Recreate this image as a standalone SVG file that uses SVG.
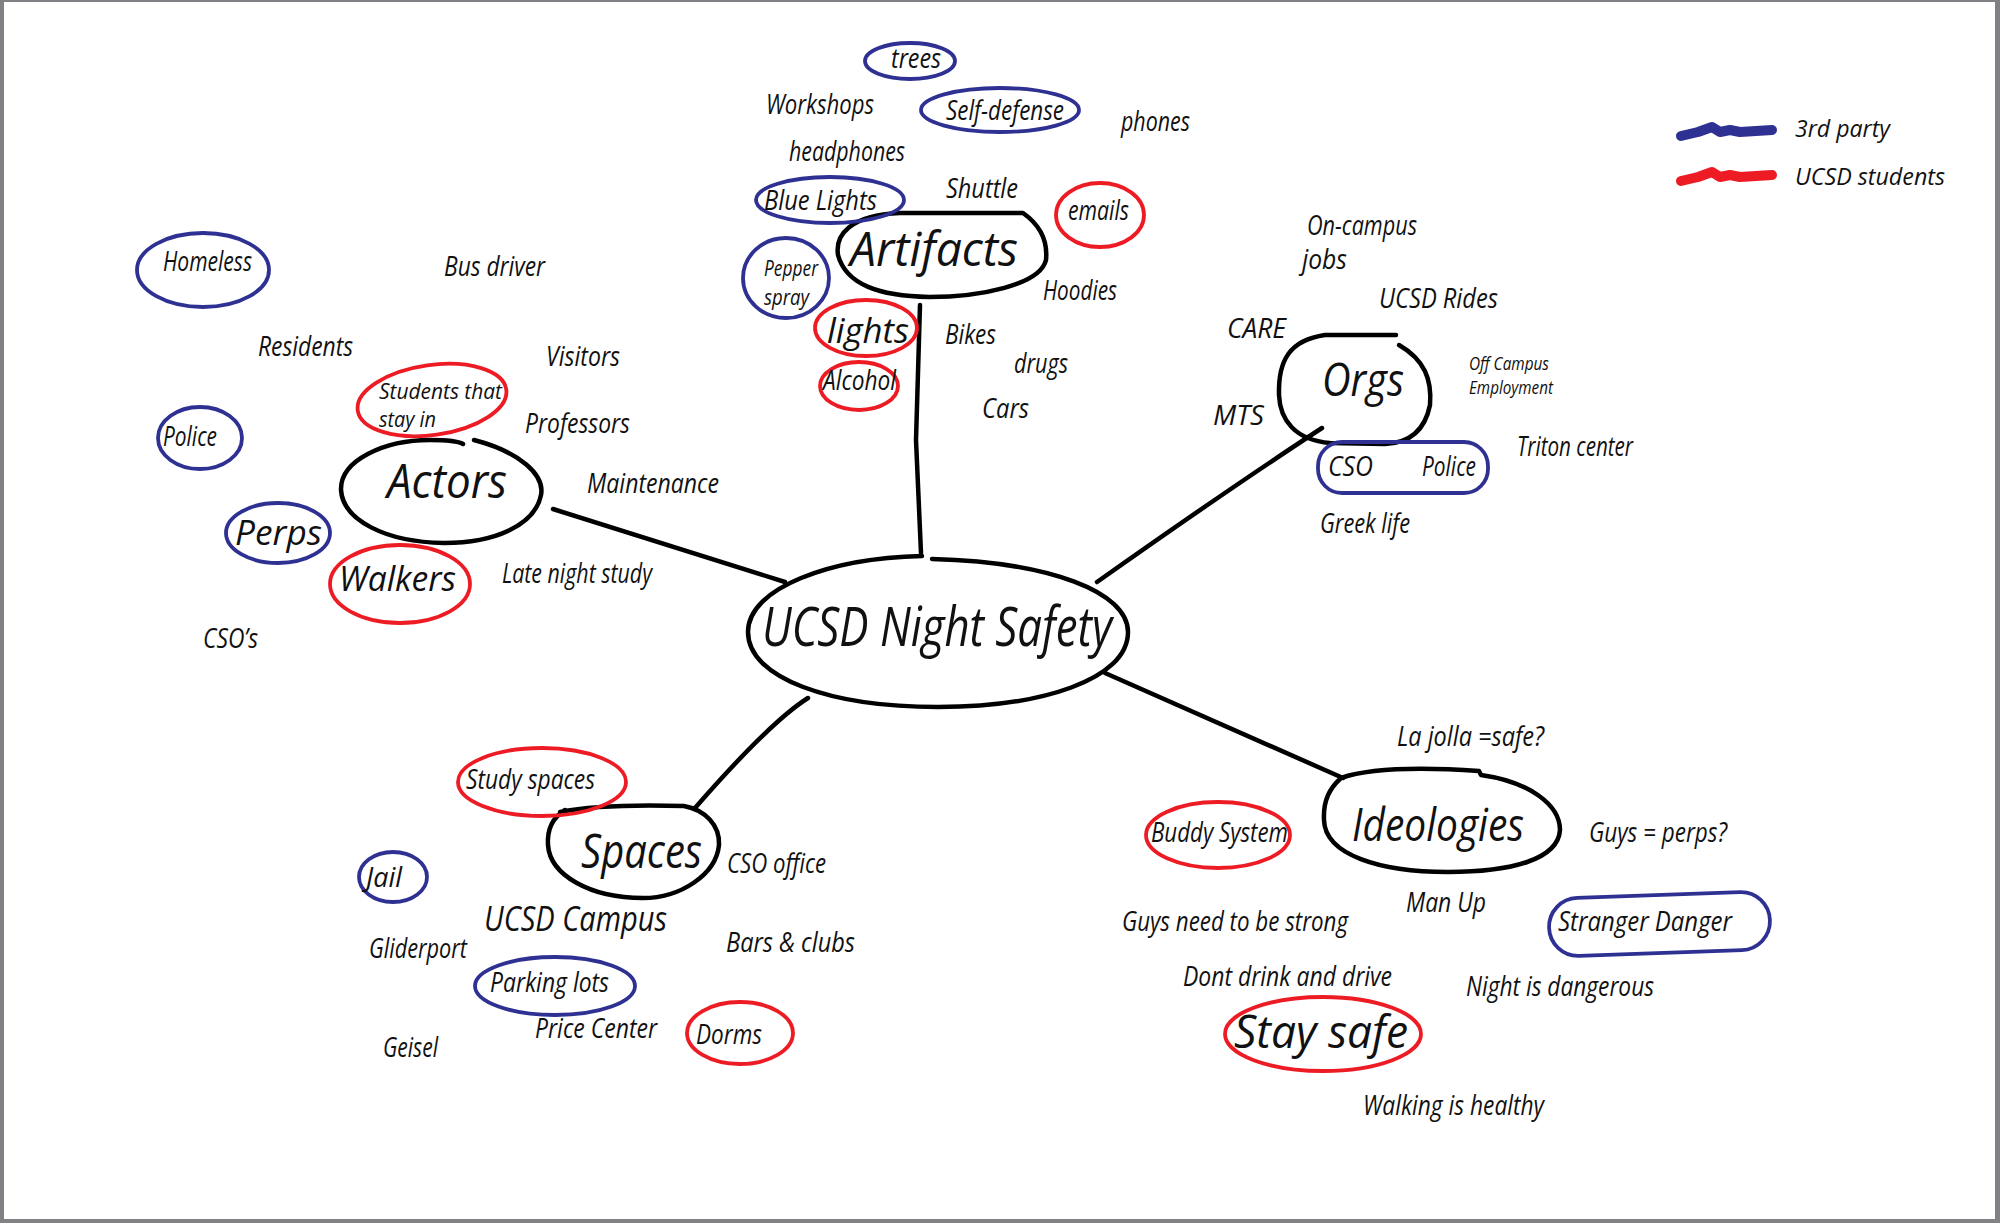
<svg xmlns="http://www.w3.org/2000/svg" width="2000" height="1223" viewBox="0 0 2000 1223">
<style>
text{font-family:"Open Sans","Liberation Sans",sans-serif;font-style:italic;fill:#111;font-size:27px}
.sm{font-size:22px}
.xs{font-size:18px}
.md{font-size:35px}
.lg{font-size:46px}
.big{font-size:48px}
.hub{font-size:54px}
.leg{font-size:24px}
.ink{fill:none;stroke:#000;stroke-width:4.5;stroke-linecap:round;stroke-linejoin:round}
.b{fill:none;stroke:#2E3192;stroke-width:3.8}
.r{fill:none;stroke:#ED1C24;stroke-width:3.8}
.lb{fill:none;stroke:#2E3192;stroke-width:10;stroke-linecap:round;stroke-linejoin:round}
.lr{fill:none;stroke:#ED1C24;stroke-width:10;stroke-linecap:round;stroke-linejoin:round}
</style>
<rect x="0" y="0" width="2000" height="1223" fill="#fff"/>
<g id="frame" fill="#808085">
<rect x="0" y="0" width="2000" height="2"/>
<rect x="0" y="0" width="4" height="1223"/>
<rect x="1995" y="0" width="5" height="1223"/>
<rect x="0" y="1219" width="2000" height="4"/>
</g>
<g id="connectors">
<path class="ink" d="M920,305 L916,440 L921,553"/>
<path class="ink" d="M553,509 L785,582"/>
<path class="ink" d="M1322,428 Q1230,488 1097,582"/>
<path class="ink" d="M1105,673 L1343,778"/>
<path class="ink" d="M808,698 Q770,722 695,808"/>
</g>
<g id="center">
<path class="ink" d="M932,559 C1050,562 1128,592 1128,632 C1128,680 1040,707 938,707 C830,707 748,678 748,632 C748,588 830,558 922,556"/>
<text class="hub" x="762" y="646" textLength="350" lengthAdjust="spacingAndGlyphs">UCSD Night Safety</text>
</g>
<g id="artifacts">
<path class="ink" d="M900,213 L1023,213 C1040,225 1048,240 1046,260 C1040,285 980,297 929,297 C880,296 846,285 838,255 C835,235 850,215 900,213 Z"/>
<text class="big" x="850" y="266" textLength="168" lengthAdjust="spacingAndGlyphs">Artifacts</text>
</g>
<g id="a-trees"><ellipse class="b" cx="910" cy="61" rx="45" ry="18"/><text x="891" y="68" textLength="50" lengthAdjust="spacingAndGlyphs">trees</text></g>
<g id="a-workshops"><text x="766" y="114" textLength="108" lengthAdjust="spacingAndGlyphs">Workshops</text></g>
<g id="a-selfdefense"><ellipse class="b" cx="1000" cy="110" rx="79" ry="22"/><text x="946" y="120" textLength="118" lengthAdjust="spacingAndGlyphs">Self-defense</text></g>
<g id="a-phones"><text x="1121" y="131" textLength="69" lengthAdjust="spacingAndGlyphs">phones</text></g>
<g id="a-headphones"><text x="789" y="161" textLength="116" lengthAdjust="spacingAndGlyphs">headphones</text></g>
<g id="a-bluelights"><ellipse class="b" cx="830" cy="200" rx="74" ry="23"/><text x="764" y="210" textLength="113" lengthAdjust="spacingAndGlyphs">Blue Lights</text></g>
<g id="a-shuttle"><text x="946" y="198" textLength="72" lengthAdjust="spacingAndGlyphs">Shuttle</text></g>
<g id="a-emails"><ellipse class="r" cx="1100" cy="215" rx="44" ry="32"/><text x="1068" y="220" textLength="61" lengthAdjust="spacingAndGlyphs">emails</text></g>
<g id="a-pepper"><ellipse class="b" cx="786" cy="278" rx="43" ry="40"/><text class="sm" x="764" y="276" textLength="54" lengthAdjust="spacingAndGlyphs">Pepper</text><text class="sm" x="764" y="305" textLength="45" lengthAdjust="spacingAndGlyphs">spray</text></g>
<g id="a-hoodies"><text x="1043" y="300" textLength="74" lengthAdjust="spacingAndGlyphs">Hoodies</text></g>
<g id="a-lights"><ellipse class="r" cx="866" cy="328" rx="51" ry="28"/><text class="md" x="827" y="343" textLength="82" lengthAdjust="spacingAndGlyphs">lights</text></g>
<g id="a-bikes"><text x="945" y="344" textLength="51" lengthAdjust="spacingAndGlyphs">Bikes</text></g>
<g id="a-drugs"><text x="1014" y="373" textLength="54" lengthAdjust="spacingAndGlyphs">drugs</text></g>
<g id="a-alcohol"><ellipse class="r" cx="859" cy="386" rx="39" ry="24"/><text x="823" y="390" textLength="73" lengthAdjust="spacingAndGlyphs">Alcohol</text></g>
<g id="a-cars"><text x="982" y="418" textLength="47" lengthAdjust="spacingAndGlyphs">Cars</text></g>
<g id="actors">
<path class="ink" d="M474,440 C520,452 545,475 541,495 C535,525 495,543 444,543 C385,542 343,520 341,490 C340,460 385,440 430,440 C448,440 458,441 463,444"/>
<text class="big" x="387" y="498" textLength="120" lengthAdjust="spacingAndGlyphs">Actors</text>
</g>
<g id="c-homeless"><ellipse class="b" cx="203" cy="270" rx="66" ry="37"/><text x="163" y="271" textLength="89" lengthAdjust="spacingAndGlyphs">Homeless</text></g>
<g id="c-busdriver"><text x="444" y="276" textLength="101" lengthAdjust="spacingAndGlyphs">Bus driver</text></g>
<g id="c-residents"><text x="258" y="356" textLength="95" lengthAdjust="spacingAndGlyphs">Residents</text></g>
<g id="c-visitors"><text x="546" y="366" textLength="74" lengthAdjust="spacingAndGlyphs">Visitors</text></g>
<g id="c-students"><ellipse class="r" cx="432" cy="400" rx="75" ry="35" transform="rotate(-8 432 400)"/><text class="sm" x="379" y="399" textLength="123" lengthAdjust="spacingAndGlyphs">Students that</text><text class="sm" x="379" y="427" textLength="57" lengthAdjust="spacingAndGlyphs">stay in</text></g>
<g id="c-professors"><text x="525" y="433" textLength="105" lengthAdjust="spacingAndGlyphs">Professors</text></g>
<g id="c-police"><ellipse class="b" cx="200" cy="438" rx="42" ry="31"/><text x="163" y="446" textLength="54" lengthAdjust="spacingAndGlyphs">Police</text></g>
<g id="c-maintenance"><text x="587" y="493" textLength="132" lengthAdjust="spacingAndGlyphs">Maintenance</text></g>
<g id="c-perps"><ellipse class="b" cx="278" cy="533" rx="52" ry="30"/><text class="md" x="235" y="545" textLength="87" lengthAdjust="spacingAndGlyphs">Perps</text></g>
<g id="c-walkers"><ellipse class="r" cx="400" cy="584" rx="70" ry="39"/><text class="md" x="339" y="591" textLength="117" lengthAdjust="spacingAndGlyphs">Walkers</text></g>
<g id="c-latenight"><text x="502" y="583" textLength="150" lengthAdjust="spacingAndGlyphs">Late night study</text></g>
<g id="c-csos"><text x="203" y="648" textLength="55" lengthAdjust="spacingAndGlyphs">CSO’s</text></g>
<g id="orgs">
<path class="ink" d="M1399,345 C1425,360 1432,380 1430,405 C1425,430 1410,443 1385,444 L1330,443 C1295,440 1280,420 1279,395 C1278,360 1290,340 1325,335 L1396,335"/>
<text class="lg" x="1322" y="396" textLength="82" lengthAdjust="spacingAndGlyphs">Orgs</text>
</g>
<g id="o-oncampus"><text x="1307" y="235" textLength="110" lengthAdjust="spacingAndGlyphs">On-campus</text><text x="1302" y="269" textLength="45" lengthAdjust="spacingAndGlyphs">jobs</text></g>
<g id="o-rides"><text x="1379" y="308" textLength="119" lengthAdjust="spacingAndGlyphs">UCSD Rides</text></g>
<g id="o-care"><text x="1227" y="338" textLength="59" lengthAdjust="spacingAndGlyphs">CARE</text></g>
<g id="o-offcampus"><text class="xs" x="1469" y="370" textLength="80" lengthAdjust="spacingAndGlyphs">Off Campus</text><text class="xs" x="1469" y="394" textLength="84" lengthAdjust="spacingAndGlyphs">Employment</text></g>
<g id="o-mts"><text x="1213" y="425" textLength="51" lengthAdjust="spacingAndGlyphs">MTS</text></g>
<g id="o-triton"><text x="1517" y="456" textLength="116" lengthAdjust="spacingAndGlyphs">Triton center</text></g>
<g id="o-csopolice"><rect class="b" x="1318" y="442" width="170" height="51" rx="24" ry="24"/><text x="1328" y="476" textLength="45" lengthAdjust="spacingAndGlyphs">CSO</text><text x="1422" y="476" textLength="54" lengthAdjust="spacingAndGlyphs">Police</text></g>
<g id="o-greek"><text x="1320" y="533" textLength="90" lengthAdjust="spacingAndGlyphs">Greek life</text></g>
<g id="spaces">
<path class="ink" d="M560,812 C600,804 650,805 684,806 C705,810 720,825 719,845 C716,875 680,898 643,898 C590,898 550,875 548,845 C547,830 552,818 565,810"/>
<text class="big" x="581" y="868" textLength="121" lengthAdjust="spacingAndGlyphs">Spaces</text>
</g>
<g id="s-study"><ellipse class="r" cx="542" cy="782" rx="84" ry="34"/><text x="466" y="789" textLength="129" lengthAdjust="spacingAndGlyphs">Study spaces</text></g>
<g id="s-jail"><ellipse class="b" cx="393" cy="877" rx="34" ry="25"/><text x="366" y="887" textLength="36" lengthAdjust="spacingAndGlyphs">Jail</text></g>
<g id="s-csooffice"><text x="727" y="873" textLength="99" lengthAdjust="spacingAndGlyphs">CSO office</text></g>
<g id="s-campus"><text class="md" x="484" y="931" textLength="183" lengthAdjust="spacingAndGlyphs">UCSD Campus</text></g>
<g id="s-gliderport"><text x="369" y="958" textLength="98" lengthAdjust="spacingAndGlyphs">Gliderport</text></g>
<g id="s-bars"><text x="726" y="952" textLength="129" lengthAdjust="spacingAndGlyphs">Bars &amp; clubs</text></g>
<g id="s-parking"><ellipse class="b" cx="555" cy="986" rx="80" ry="29"/><text x="490" y="992" textLength="119" lengthAdjust="spacingAndGlyphs">Parking lots</text></g>
<g id="s-price"><text x="535" y="1038" textLength="122" lengthAdjust="spacingAndGlyphs">Price Center</text></g>
<g id="s-dorms"><ellipse class="r" cx="740" cy="1033" rx="53" ry="31"/><text x="696" y="1044" textLength="66" lengthAdjust="spacingAndGlyphs">Dorms</text></g>
<g id="s-geisel"><text x="383" y="1057" textLength="55" lengthAdjust="spacingAndGlyphs">Geisel</text></g>
<g id="ideologies">
<path class="ink" d="M1341,778 C1370,768 1420,767 1479,771 L1481,775 C1530,782 1560,805 1560,830 C1558,860 1510,872 1448,872 C1380,872 1325,855 1324,820 C1323,800 1330,788 1341,778"/>
<text class="lg" x="1352" y="841" textLength="172" lengthAdjust="spacingAndGlyphs">Ideologies</text>
</g>
<g id="i-lajolla"><text x="1397" y="746" textLength="147" lengthAdjust="spacingAndGlyphs">La jolla =safe?</text></g>
<g id="i-buddy"><ellipse class="r" cx="1218" cy="835" rx="72" ry="33"/><text x="1151" y="842" textLength="137" lengthAdjust="spacingAndGlyphs">Buddy System</text></g>
<g id="i-guysperps"><text x="1589" y="842" textLength="138" lengthAdjust="spacingAndGlyphs">Guys = perps?</text></g>
<g id="i-manup"><text x="1406" y="912" textLength="80" lengthAdjust="spacingAndGlyphs">Man Up</text></g>
<g id="i-strong"><text x="1122" y="931" textLength="226" lengthAdjust="spacingAndGlyphs">Guys need to be strong</text></g>
<g id="i-stranger"><rect class="b" x="1549" y="895" width="221" height="58" rx="29" ry="29" transform="rotate(-2 1660 924)"/><text x="1558" y="931" textLength="174" lengthAdjust="spacingAndGlyphs">Stranger Danger</text></g>
<g id="i-dontdrink"><text x="1183" y="986" textLength="209" lengthAdjust="spacingAndGlyphs">Dont drink and drive</text></g>
<g id="i-night"><text x="1466" y="996" textLength="188" lengthAdjust="spacingAndGlyphs">Night is dangerous</text></g>
<g id="i-staysafe"><ellipse class="r" cx="1323" cy="1034" rx="98" ry="37"/><text class="lg" x="1234" y="1048" textLength="174" lengthAdjust="spacingAndGlyphs">Stay safe</text></g>
<g id="i-walking"><text x="1363" y="1115" textLength="181" lengthAdjust="spacingAndGlyphs">Walking is healthy</text></g>
<g id="legend">
<path class="lb" d="M1681,136 L1698,132 L1712,127 L1720,132 L1730,130 L1740,132 L1772,130"/>
<text class="leg" x="1795" y="137" textLength="95" lengthAdjust="spacingAndGlyphs">3rd party</text>
<path class="lr" d="M1681,181 L1698,177 L1712,172 L1720,177 L1730,175 L1740,177 L1772,175"/>
<text class="leg" x="1795" y="185" textLength="150" lengthAdjust="spacingAndGlyphs">UCSD students</text>
</g>
</svg>
